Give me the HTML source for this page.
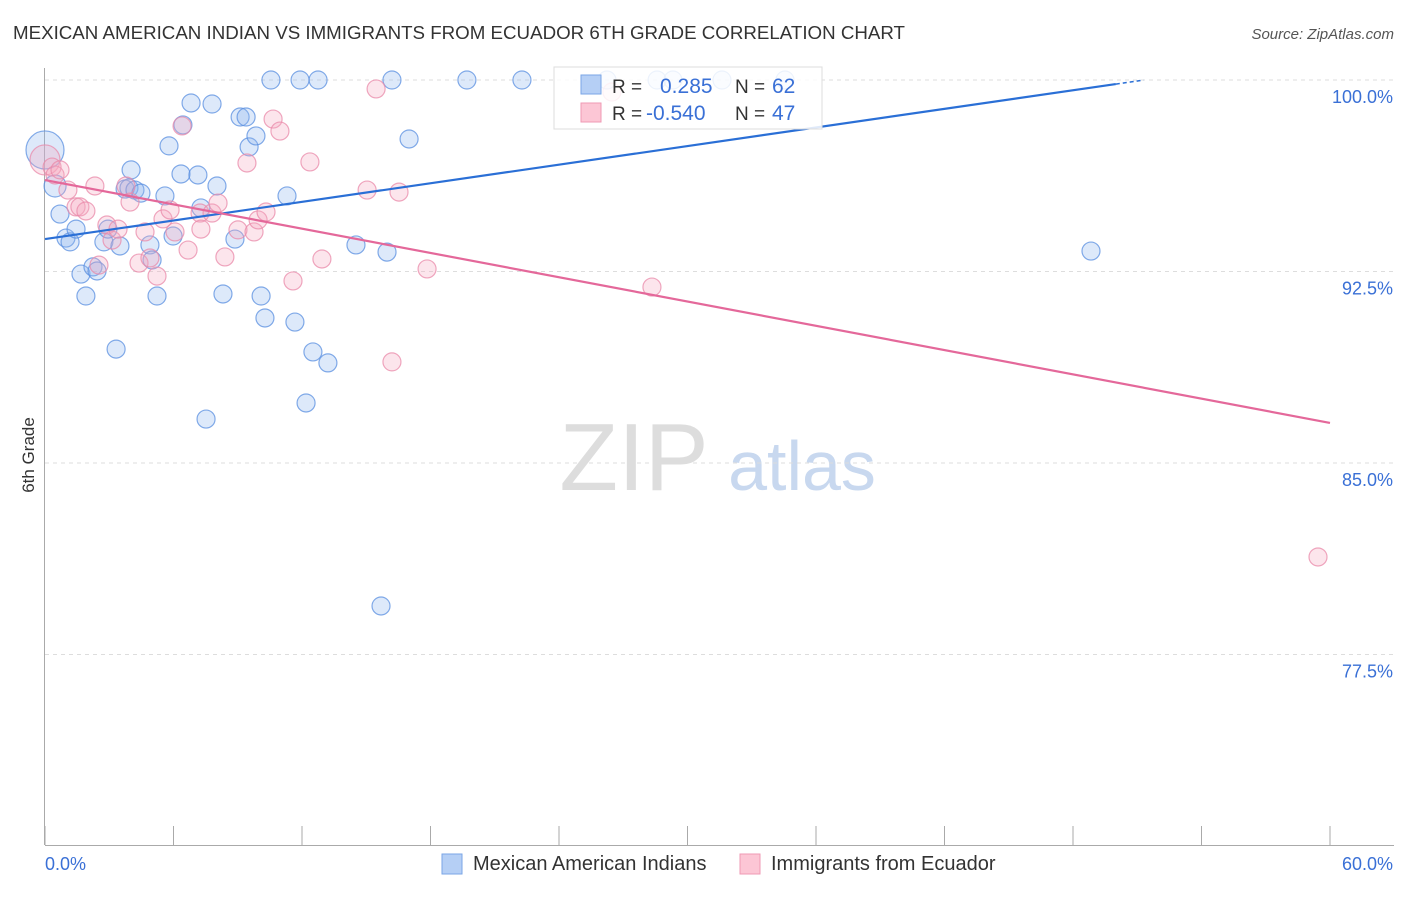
<!DOCTYPE html>
<html><head><meta charset="utf-8"><style>
body{margin:0;background:#fff;font-family:"Liberation Sans",sans-serif}
svg text{font-family:"Liberation Sans",sans-serif}
</style></head><body>
<svg id="c" width="1406" height="892">
<text x="13" y="39" font-size="18.6" fill="#333" textLength="892" lengthAdjust="spacingAndGlyphs">MEXICAN AMERICAN INDIAN VS IMMIGRANTS FROM ECUADOR 6TH GRADE CORRELATION CHART</text>
<text x="1394" y="39" font-size="15" fill="#555" text-anchor="end" font-style="italic">Source: ZipAtlas.com</text>
<text x="34" y="455" font-size="17" fill="#333" text-anchor="middle" transform="rotate(-90 34 455)">6th Grade</text>
<g><text x="634" y="490" font-size="96" fill="#ddd" text-anchor="middle" font-family="Liberation Serif">ZIP</text><text x="802" y="490" font-size="70" fill="#c8d8ef" text-anchor="middle">atlas</text></g>
<g id="grid"></g><g id="pts"></g><g id="lines"></g>
<g>
<rect x="554" y="67" width="268" height="62" fill="#fff" fill-opacity="0.85" stroke="#ddd"/>
<rect x="581" y="75" width="20" height="19" fill="#b5cff5" stroke="#7aa6e6"/>
<rect x="581" y="103" width="20" height="19" fill="#fcc6d5" stroke="#ef9ab4"/>
<text x="612" y="93" font-size="19" fill="#333">R =</text><text x="660" y="93" font-size="21" fill="#3a70d6">0.285</text>
<text x="735" y="93" font-size="19" fill="#333">N =</text><text x="772" y="93" font-size="21" fill="#3a70d6">62</text>
<text x="612" y="120" font-size="19" fill="#333">R =</text><text x="646" y="120" font-size="21" fill="#3a70d6">-0.540</text>
<text x="735" y="120" font-size="19" fill="#333">N =</text><text x="772" y="120" font-size="21" fill="#3a70d6">47</text>
</g>
<g>
<rect x="442" y="854" width="20" height="20" fill="#b5cff5" stroke="#7aa6e6"/><text x="473" y="870" font-size="20" fill="#333">Mexican American Indians</text>
<rect x="740" y="854" width="20" height="20" fill="#fcc6d5" stroke="#ef9ab4"/><text x="771" y="870" font-size="20" fill="#333">Immigrants from Ecuador</text>
</g>
</svg>
<script>
const yTicks=[100,92.5,85,77.5];
const yTickLabels=["100.0%","92.5%","85.0%","77.5%"];
const xTickLabels=["0.0%","60.0%"];
const bluePx=[[45,150],[55,186],[60,214],[66,238],[70,242],[76,229],[81,274],[86,296],[93,267],[97,271],[104,242],[108,229],[116,349],[120,246],[125,189],[129,188],[131,170],[135,190],[141,193],[150,245],[152,260],[157,296],[165,196],[169,146],[173,236],[181,174],[183,125],[191,103],[198,175],[201,208],[206,419],[212,104],[217,186],[223,294],[235,239],[240,117],[246,117],[249,147],[256,136],[261,296],[265,318],[271,80],[287,196],[295,322],[300,80],[306,403],[313,352],[318,80],[328,363],[356,245],[381,606],[387,252],[392,80],[409,139],[467,80],[522,80],[607,80],[657,80],[673,80],[722,80],[785,80],[1091,251]];
const pinkPx=[[45,160],[52,167],[55,175],[60,170],[68,190],[76,207],[80,207],[86,211],[95,186],[99,265],[107,225],[112,240],[118,229],[126,186],[130,202],[139,263],[145,232],[150,258],[157,276],[163,219],[170,210],[175,232],[182,126],[188,250],[200,213],[201,229],[212,213],[218,203],[225,257],[238,230],[247,163],[254,232],[258,220],[266,212],[273,119],[280,131],[293,281],[310,162],[322,259],[367,190],[376,89],[392,362],[399,192],[427,269],[612,92],[652,287],[1318,557]];
const blueX=bluePx.map(p=>+((p[0]-45)/1285*60).toFixed(2));
const blueY=bluePx.map(p=>+(100-(p[1]-80)/191.5*7.5).toFixed(2));
const pinkX=pinkPx.map(p=>+((p[0]-45)/1285*60).toFixed(2));
const pinkY=pinkPx.map(p=>+(100-(p[1]-80)/191.5*7.5).toFixed(2));
const blueTrend=[93.77,99.84];
const pinkTrend=[96.08,86.57];
const X=v=>45+v/60*1285, Y=v=>80+(100-v)/7.5*191.5;
const NS="http://www.w3.org/2000/svg";
function mk(t,a,p){const e=document.createElementNS(NS,t);for(const k in a)e.setAttribute(k,a[k]);p.appendChild(e);return e;}
const g=document.getElementById('grid');
yTicks.forEach((v,i)=>{
 const l=mk('line',{x1:45,x2:1394,y1:Y(v),y2:Y(v),stroke:'#ddd','stroke-dasharray':'4,4'},g);
 
 
 const t=mk('text',{x:1393,y:Y(v)+23,'font-size':18,fill:'#3a70d6','text-anchor':'end'},g);t.textContent=yTickLabels[i];
 
 
});
mk('line',{x1:44.5,x2:44.5,y1:68,y2:845,stroke:'#aaa'},g);
mk('line',{x1:45,x2:1394,y1:845.5,y2:845.5,stroke:'#aaa'},g);
for(let i=0;i<=10;i++){mk('line',{x1:X(i*6),x2:X(i*6),y1:826,y2:845,stroke:'#aaa'},g);}
[[0,45,'start'],[60,1393,'end']].forEach((d,i)=>{const t=mk('text',{x:d[1],y:870,'font-size':18,fill:'#3a70d6','text-anchor':d[2]},g);t.textContent=xTickLabels[i];
 
 });
const pg=document.getElementById('pts');
function draw(xs,ys,fill,stroke,name){xs.forEach((x,i)=>{let r=9;if(i===0)r=name==='blue-point'?19:15;if(name==='blue-point'&&i===1)r=11;
 const c=mk('circle',{cx:X(x),cy:Y(ys[i]),r:r,fill:fill,'fill-opacity':0.3,stroke:stroke,'stroke-opacity':0.75,'stroke-width':1.2},pg);
 
 });}
draw(blueX,blueY,'#8fb6ee','#5a8fe0','blue-point');
draw(pinkX,pinkY,'#f6a9c0','#ea8aaa','pink-point');
const lg=document.getElementById('lines');
const b=mk('line',{x1:X(0),y1:Y(blueTrend[0]),x2:X(50),y2:Y(blueTrend[1]),stroke:'#2a6fd6','stroke-width':2.2},lg);


const sl=(blueTrend[1]-blueTrend[0])/50;
mk('line',{x1:X(50),y1:Y(blueTrend[1]),x2:X(51.3),y2:Y(blueTrend[0]+sl*51.3),stroke:'#2a6fd6','stroke-width':1.5,'stroke-dasharray':'4,3'},lg);
const p=mk('line',{x1:X(0),y1:Y(pinkTrend[0]),x2:X(60),y2:Y(pinkTrend[1]),stroke:'#e4689a','stroke-width':2.2},lg);


</script>
</body></html>
